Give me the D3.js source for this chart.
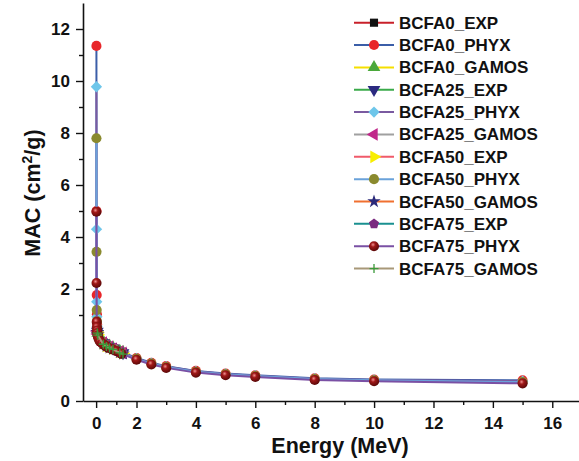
<!DOCTYPE html>
<html>
<head>
<meta charset="utf-8">
<script src="https://cdn.jsdelivr.net/npm/d3@7"></script>
<style>
body { margin: 0; background: #fff; }
text { font-family: "Liberation Sans", Arial, sans-serif; font-weight: bold; fill: #111; }
</style>
</head>
<body>
<svg id="chart" width="579" height="461"></svg>
<script>
// energies (MeV)
var energyPhyx = [0.015, 0.02, 0.03, 0.04, 0.05, 0.06, 0.08, 0.1, 0.15, 0.2, 0.3, 0.4, 0.5, 0.6, 0.8, 1, 1.25, 2, 2.5, 3, 4, 5, 6, 8, 10, 15];
var energyExp = [0.0595, 0.081, 0.356, 0.511, 0.662, 0.835, 1.173, 1.332];

// MAC values (cm2/g)
var bcfa0Exp    = [0.82, 0.79, 0.685, 0.655, 0.64, 0.625, 0.585, 0.57];
var bcfa0Phyx   = [11.35, 5.0, 1.77, 1.03, 0.89, 0.83, 0.79, 0.76, 0.73, 0.71, 0.69, 0.67, 0.655, 0.64, 0.62, 0.6, 0.57, 0.5, 0.445, 0.405, 0.35, 0.32, 0.3, 0.265, 0.25, 0.24];
var bcfa0Gamos  = [0.83, 0.79, 0.69, 0.66, 0.64, 0.62, 0.58, 0.57];
var bcfa25Exp   = [0.81, 0.78, 0.675, 0.645, 0.63, 0.615, 0.575, 0.56];
var bcfa25Phyx  = [9.78, 4.3, 1.51, 0.98, 0.87, 0.82, 0.785, 0.755, 0.725, 0.705, 0.685, 0.665, 0.65, 0.635, 0.615, 0.595, 0.565, 0.495, 0.44, 0.4, 0.345, 0.315, 0.295, 0.26, 0.245, 0.23];
var bcfa25Gamos = [0.815, 0.78, 0.68, 0.645, 0.63, 0.61, 0.575, 0.56];
var bcfa50Exp   = [0.80, 0.77, 0.67, 0.64, 0.625, 0.61, 0.57, 0.555];
var bcfa50Phyx  = [7.8, 3.43, 1.19, 0.93, 0.85, 0.81, 0.775, 0.75, 0.72, 0.7, 0.68, 0.66, 0.645, 0.63, 0.61, 0.59, 0.56, 0.49, 0.435, 0.395, 0.34, 0.31, 0.29, 0.255, 0.24, 0.22];
var bcfa50Gamos = [0.8, 0.77, 0.665, 0.64, 0.62, 0.605, 0.565, 0.55];
var bcfa75Exp   = [0.79, 0.76, 0.66, 0.63, 0.615, 0.6, 0.56, 0.545];
var bcfa75Phyx  = [4.97, 2.23, 0.92, 0.86, 0.82, 0.79, 0.76, 0.74, 0.71, 0.69, 0.67, 0.65, 0.635, 0.62, 0.6, 0.58, 0.55, 0.48, 0.425, 0.385, 0.33, 0.3, 0.28, 0.245, 0.23, 0.205];
var bcfa75Gamos = [0.79, 0.765, 0.66, 0.635, 0.615, 0.6, 0.56, 0.545];

var xMajor = [0, 2, 4, 6, 8, 10, 12, 14, 16];
var xMinor = [1, 3, 5, 7, 9, 11, 13, 15];
var yMajor = [0, 2, 4, 6, 8, 10, 12];
var yMinor = [1, 3, 5, 7, 9, 11];

var series = [
    {name: "BCFA0_EXP",    e: energyExp,  v: bcfa0Exp,    line: "#c8202a", fill: "#111111", shape: "square"},
    {name: "BCFA0_PHYX",   e: energyPhyx, v: bcfa0Phyx,   line: "#3b5ea8", fill: "#e8262a", shape: "circle"},
    {name: "BCFA0_GAMOS",  e: energyExp,  v: bcfa0Gamos,  line: "#f5df00", fill: "#4aa83a", shape: "triUp"},
    {name: "BCFA25_EXP",   e: energyExp,  v: bcfa25Exp,   line: "#3aaa4a", fill: "#2b2a80", shape: "triDown"},
    {name: "BCFA25_PHYX",  e: energyPhyx, v: bcfa25Phyx,  line: "#7a5aa0", fill: "#6ec6ea", shape: "diamond"},
    {name: "BCFA25_GAMOS", e: energyExp,  v: bcfa25Gamos, line: "#a0a0a0", fill: "#c0288a", shape: "triLeft"},
    {name: "BCFA50_EXP",   e: energyExp,  v: bcfa50Exp,   line: "#f05a6a", fill: "#f8ee00", shape: "triRight"},
    {name: "BCFA50_PHYX",  e: energyPhyx, v: bcfa50Phyx,  line: "#6aa2da", fill: "#8a8a2e", shape: "circle"},
    {name: "BCFA50_GAMOS", e: energyExp,  v: bcfa50Gamos, line: "#f07030", fill: "#2b2a7a", shape: "star"},
    {name: "BCFA75_EXP",   e: energyExp,  v: bcfa75Exp,   line: "#1a9090", fill: "#7a2a80", shape: "pentagon"},
    {name: "BCFA75_PHYX",  e: energyPhyx, v: bcfa75Phyx,  line: "#7a50a4", fill: "url(#ball)", shape: "circle"},
    {name: "BCFA75_GAMOS", e: energyExp,  v: bcfa75Gamos, line: "#a89878", fill: "#3a9a3a", shape: "plus"}
];

var svg = d3.select("#chart");

var defs = svg.append("defs");
var grad = defs.append("radialGradient").attr("id", "ball")
    .attr("cx", "40%").attr("cy", "35%").attr("r", "65%");
grad.append("stop").attr("offset", "0%").attr("stop-color", "#f09090");
grad.append("stop").attr("offset", "35%").attr("stop-color", "#a01818");
grad.append("stop").attr("offset", "100%").attr("stop-color", "#5a0808");

// piecewise scales: both axes are stretched near the origin
var x = d3.scaleLinear().domain([-0.65, 2, 16.9]).range([83, 136.5, 579]);
var y = d3.scaleLinear().domain([0, 1, 13]).range([401, 315, 3]);

function markerPath(shape) {
    switch (shape) {
        case "square": return d3.symbol(d3.symbolSquare, 66)();
        case "circle": return d3.symbol(d3.symbolCircle, 80)();
        case "triUp": return d3.symbol(d3.symbolTriangle, 70)();
        case "triDown": return d3.symbol(d3.symbolTriangle, 70)();
        case "triLeft": return d3.symbol(d3.symbolTriangle, 70)();
        case "triRight": return d3.symbol(d3.symbolTriangle, 70)();
        case "diamond": return d3.symbol(d3.symbolSquare, 64)();
        case "star": return d3.symbol(d3.symbolStar, 56)();
        case "pentagon":
            var pts = d3.range(5).map(function(i) {
                var a = -Math.PI / 2 + i * 2 * Math.PI / 5;
                return [5.3 * Math.cos(a), 5.3 * Math.sin(a)];
            });
            return "M" + pts.join("L") + "Z";
        case "plus": return "M-4.5,0H4.5M0,-4.5V4.5";
    }
}
function markerRotate(shape) {
    return {triDown: 180, triLeft: -90, triRight: 90, diamond: 45}[shape] || 0;
}
function drawMarker(g, s, px, py) {
    var m = g.append("path")
        .attr("d", markerPath(s.shape))
        .attr("transform", "translate(" + px + "," + py + ") rotate(" + markerRotate(s.shape) + ")");
    if (s.shape === "plus") {
        m.attr("fill", "none").attr("stroke", s.fill).attr("stroke-width", 1.3);
    } else {
        m.attr("fill", s.fill);
    }
}

// axes
svg.append("g").attr("transform", "translate(0,401)")
    .call(d3.axisBottom(x).tickValues(xMajor).tickSize(7).tickSizeOuter(0).tickPadding(9).tickFormat(d3.format("d")));
svg.append("g").attr("transform", "translate(0,401)")
    .call(d3.axisBottom(x).tickValues(xMinor).tickSize(4).tickSizeOuter(0).tickFormat(""))
    .select(".domain").remove();
svg.append("g").attr("transform", "translate(83,0)")
    .call(d3.axisLeft(y).tickValues(yMajor).tickSize(7).tickSizeOuter(0).tickPadding(6).tickFormat(d3.format("d")));
svg.append("g").attr("transform", "translate(83,0)")
    .call(d3.axisLeft(y).tickValues(yMinor).tickSize(4).tickSizeOuter(0).tickFormat(""))
    .select(".domain").remove();

svg.selectAll(".domain").attr("stroke", "#111").attr("stroke-width", 1.6);
svg.selectAll(".tick line").attr("stroke", "#111").attr("stroke-width", 1.4);
svg.selectAll(".tick text").attr("fill", "#111").style("font-size", "17px")
    .style("font-family", "'Liberation Sans', Arial, sans-serif").style("font-weight", "bold");

// axis titles
svg.append("text").attr("x", 340).attr("y", 453).attr("text-anchor", "middle")
    .style("font-size", "21.5px").text("Energy (MeV)");
var yt = svg.append("text").attr("transform", "translate(40,193) rotate(-90)")
    .attr("text-anchor", "middle").style("font-size", "21.5px");
yt.append("tspan").text("MAC (cm");
yt.append("tspan").attr("dy", -8).style("font-size", "14px").text("2");
yt.append("tspan").attr("dy", 8).text("/g)");

// data
var line = d3.line().x(function(d) { return x(d[0]); }).y(function(d) { return y(d[1]); });
series.forEach(function(s) {
    var pts = s.e.map(function(e, i) { return [e, s.v[i]]; });
    var g = svg.append("g");
    g.append("path").attr("d", line(pts)).attr("fill", "none")
        .attr("stroke", s.line).attr("stroke-width", 2);
    pts.forEach(function(p) { drawMarker(g, s, x(p[0]), y(p[1])); });
});

// legend
var legend = svg.append("g");
series.forEach(function(s, i) {
    var cy = 22.7 + i * 22.35;
    var g = legend.append("g");
    g.append("line").attr("x1", 354).attr("x2", 394).attr("y1", cy).attr("y2", cy)
        .attr("stroke", s.line).attr("stroke-width", 2);
    drawMarker(g, s, 374, cy);
    g.append("text").attr("x", 399).attr("y", cy + 6).style("font-size", "17px").text(s.name);
});
</script>
</body>
</html>
